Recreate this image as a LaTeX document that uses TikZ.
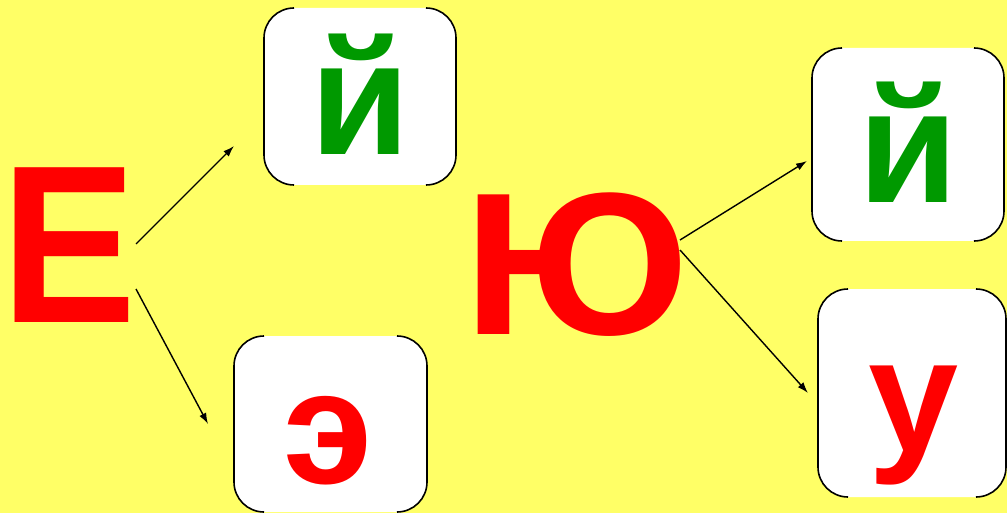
\documentclass[tikz,border=0pt]{standalone}
\usepackage{fontspec}
\setmainfont{Liberation Sans}
\usetikzlibrary{arrows.meta}
\definecolor{bgyellow}{RGB}{255,255,102}
\definecolor{lred}{RGB}{255,0,0}
\definecolor{lgreen}{RGB}{0,153,0}
\tikzset{
  box/.style={rectangle, rounded corners=30pt, fill=white, draw=none, inner sep=0pt, outer sep=0pt},
  side/.style={draw=black, line width=1.6pt, rounded corners=30pt},
  big/.style={anchor=base, inner sep=0pt, outer sep=0pt, text depth=0pt, text=lred, font=\fontsize{#1}{#1}\selectfont\bfseries},
  small/.style={anchor=base, inner sep=0pt, outer sep=0pt, text depth=0pt, font=\fontsize{162}{162}\selectfont\bfseries},
  arr/.style={line width=1.4pt, -{Latex[length=11pt,width=7.5pt]}}
}
\begin{document}
\begin{tikzpicture}[x=1pt,y=-1pt]
\fill[bgyellow] (0,0) rectangle (1007,513);
\useasboundingbox (0,0) rectangle (1007,513);
% boxes
\node[box, minimum width=192pt, minimum height=177pt] (b1) at (360,96.5) {};
\node[box, minimum width=193pt, minimum height=176pt] (b2) at (330.5,424) {};
\node[box, minimum width=192pt, minimum height=193pt] (b3) at (908,144.5) {};
\node[box, minimum width=188pt, minimum height=208pt] (b4) at (912,393) {};
\foreach \b in {b1,b2,b3,b4}{
  \draw[side] ([xshift=30pt]\b.north west) -- (\b.north west) -- (\b.south west) -- ([xshift=30pt]\b.south west);
  \draw[side] ([xshift=-30pt]\b.north east) -- (\b.north east) -- (\b.south east) -- ([xshift=-30pt]\b.south east);
}
% letters
\node[big=225, xscale=0.9] (e) at (69.5,322) {Е};
\node[big=203, xscale=1.08] (yu) at (576.5,334) {Ю};
\node[small, text=lgreen] (j1) at (360,155) {й};
\node[small, text=lred] (ee) at (328.5,483) {э};
\node[small, text=lgreen] (j2) at (908.5,203) {й};
\node[small, text=lred] (u) at (913.5,451) {у};
% arrow ends
\coordinate (s1) at (136,244);
\coordinate (t1) at (234,146);
\coordinate (s2) at (136,289);
\coordinate (t2) at (208,424);
\coordinate (s3) at (680,240);
\coordinate (t3) at (807,161);
\coordinate (s4) at (680,250);
\coordinate (t4) at (808,393);
\draw[arr] (s1) -- (t1);
\draw[arr] (s2) -- (t2);
\draw[arr] (s3) -- (t3);
\draw[arr] (s4) -- (t4);
\end{tikzpicture}
\end{document}
